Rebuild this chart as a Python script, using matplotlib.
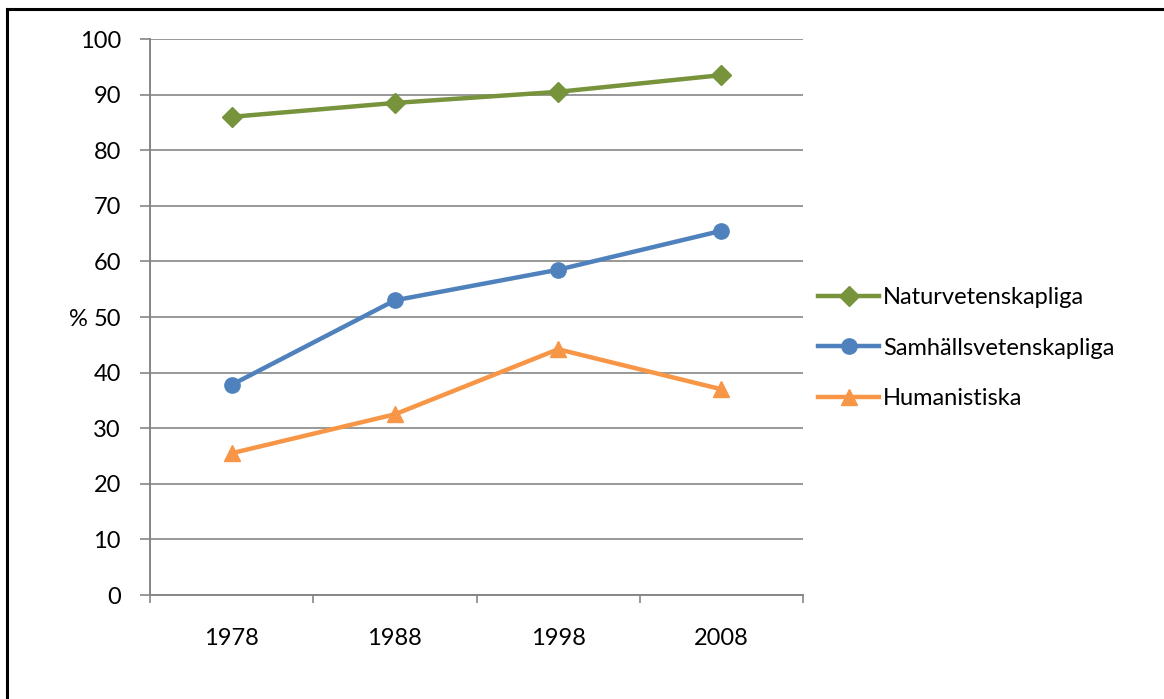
import matplotlib
matplotlib.use("Agg")
import matplotlib.pyplot as plt
from matplotlib.lines import Line2D

years = ["1978", "1988", "1998", "2008"]
natur = [86.0, 88.5, 90.5, 93.5]
samhall = [37.8, 53.0, 58.5, 65.5]
human = [25.5, 32.5, 44.2, 37.0]
series_names = ["Naturvetenskapliga", "Samhällsvetenskapliga", "Humanistiska"]
yticks = [0, 10, 20, 30, 40, 50, 60, 70, 80, 90, 100]

plt.rcParams['font.family'] = ['Lato', 'DejaVu Sans']
FS = 17
W, H = 1164, 699
fig = plt.figure(figsize=(W/100, H/100), dpi=100)
ax = fig.add_axes([150/W, 1-595/H, (803-150)/W, (595-39)/H])

grid_c = "#868686"
x = list(range(len(years)))
specs = [(natur, "#77933C", "D", 10), (samhall, "#4F81BD", "o", 11), (human, "#F79646", "^", 12)]
for (vals, c, m, ms), name in zip(specs, series_names):
    ax.plot(x, vals, color=c, lw=3.2, marker=m, markersize=ms, label=name, zorder=3)

ax.set_xlim(-0.5, 3.5)
ax.set_ylim(0, 100)
ax.set_yticks(yticks)
ax.set_yticklabels([str(v) for v in yticks], fontsize=FS)
ax.set_xticks(x)
ax.set_xticklabels(years, fontsize=FS)
ax.set_xticks([-0.5, 0.5, 1.5, 2.5, 3.5], minor=True)
ax.tick_params(axis='x', which='major', length=0, pad=24)
ax.tick_params(axis='x', which='minor', length=6, color=grid_c, width=1.2, direction='out')
ax.tick_params(axis='y', length=7, color=grid_c, width=1.2, pad=14)
ax.grid(axis='y', color=grid_c, lw=1.2, zorder=0)
for s in ['top', 'right']:
    ax.spines[s].set_visible(False)
for s in ['left', 'bottom']:
    ax.spines[s].set_color(grid_c)
    ax.spines[s].set_linewidth(1.4)

fig.text(78/W, 1-320/H, "%", fontsize=FS, ha='center', va='center')

leg = ax.legend(loc='upper left', bbox_to_anchor=(818/W, 1-287/H), bbox_transform=fig.transFigure,
                frameon=False, fontsize=FS, handlelength=2.6, handletextpad=0.15, labelspacing=1.25,
                borderaxespad=0, borderpad=0)

fig.add_artist(Line2D([7/W, 7/W], [0, 1-9/H], transform=fig.transFigure, color='black', lw=2.2))
fig.add_artist(Line2D([7/W, 1], [1-9/H, 1-9/H], transform=fig.transFigure, color='black', lw=2.2))

fig.savefig("out.png", dpi=100)
